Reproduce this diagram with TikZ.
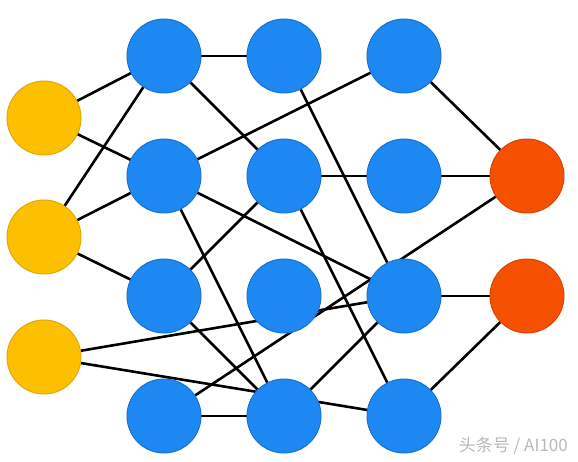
\documentclass[tikz,border=0pt]{standalone}
\usepackage{fontspec}
\usetikzlibrary{backgrounds}
\newfontfamily\cjk{Noto Sans CJK SC}
\definecolor{yel}{RGB}{252,192,0}
\definecolor{yelb}{RGB}{225,168,10}
\definecolor{blu}{RGB}{30,136,242}
\definecolor{blub}{RGB}{25,115,215}
\definecolor{org}{RGB}{245,80,0}
\definecolor{orgb}{RGB}{215,70,5}
\definecolor{wm}{RGB}{185,185,185}
\begin{document}
\begin{tikzpicture}[x=1pt,y=-1pt,
  neuron/.style={circle,minimum size=74pt,inner sep=0pt,line width=1pt},
  inp/.style={neuron,fill=yel,draw=yelb},
  hid/.style={neuron,fill=blu,draw=blub},
  outp/.style={neuron,fill=org,draw=orgb},
  conn/.style={line width=2.6pt,black}]
\useasboundingbox (0,0) rectangle (578,462);
\node[inp] (I1) at (44,118) {};
\node[inp] (I2) at (44,237) {};
\node[inp] (I3) at (44,357) {};
\foreach \c/\x in {A/164,B/284,C/404}{
  \node[hid] (\c1) at (\x,56) {};
  \node[hid] (\c2) at (\x,176) {};
  \node[hid] (\c3) at (\x,296) {};
  \node[hid] (\c4) at (\x,416) {};
}
\node[outp] (O1) at (527,176) {};
\node[outp] (O2) at (527,296) {};
\begin{scope}[on background layer]
\foreach \a/\b in {I1/A1,I1/A2,I2/A1,I2/A2,I2/A3,I3/C3,I3/C4,
  A1/B1,A1/B2,A2/C1,A2/C3,A2/B4,A3/B2,A3/B4,A4/B4,A4/O1,
  B1/C3,B2/C2,B2/C4,B4/C3,C1/O1,C2/O1,C3/O2,C4/O2}
  \draw[conn] (\a.center) -- (\b.center);
\end{scope}
\node[text=wm,font=\cjk\fontsize{17}{17}\selectfont,anchor=east,inner sep=0pt] (wm) at (568,446) {头条号 / AI100};
\end{tikzpicture}
\end{document}
